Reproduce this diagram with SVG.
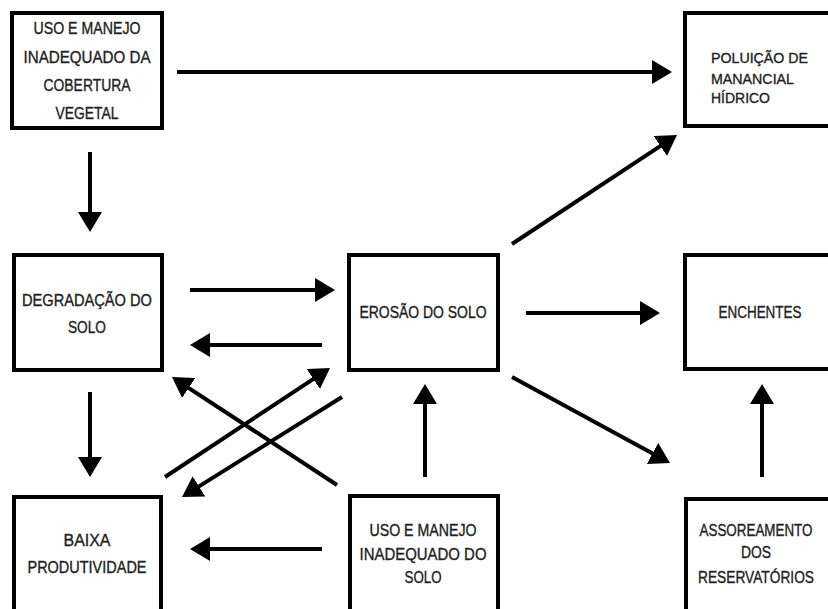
<svg xmlns="http://www.w3.org/2000/svg" width="828" height="609" viewBox="0 0 828 609">
<style>
.box{fill:#fff;stroke:#000;stroke-width:4}
.t{font-family:"Liberation Sans",Arial,sans-serif;font-size:16px;fill:#222;stroke:#222;stroke-width:0.35;text-anchor:middle}
.s{font-size:14px;text-anchor:start}
.c{fill:none;stroke:#000;stroke-width:4;marker-end:url(#ah)}
</style>
<defs>
<marker id="ah" markerUnits="userSpaceOnUse" markerWidth="22" markerHeight="24" refX="8" refY="12" orient="auto">
<path d="M0,0 L20,12 L0,24 z" fill="#000"/>
</marker>
</defs>
<rect width="828" height="609" fill="#fff"/>
<g id="connectors">
<path class="c" d="M177,72 H660"/>
<path class="c" d="M90,152 V220"/>
<path class="c" d="M190,290 H323"/>
<path class="c" d="M322,345 H202"/>
<path class="c" d="M512,244 L667,141.6"/>
<path class="c" d="M526,313 H648"/>
<path class="c" d="M512,377 L659.5,457.3"/>
<path class="c" d="M90,392 V465"/>
<path class="c" d="M165,477 L320,374.6"/>
<path class="c" d="M342,397 L192.2,490.6"/>
<path class="c" d="M337,485 L182,383.6"/>
<path class="c" d="M425,477 V396"/>
<path class="c" d="M322,549 H202"/>
<path class="c" d="M762,477 V396"/>
</g>
<g id="n1">
<rect class="box" x="12" y="13" width="150" height="115"/>
<text class="t" x="87" y="34" textLength="107" lengthAdjust="spacingAndGlyphs">USO E MANEJO</text>
<text class="t" x="87" y="63" textLength="127" lengthAdjust="spacingAndGlyphs">INADEQUADO DA</text>
<text class="t" x="87" y="91" textLength="87" lengthAdjust="spacingAndGlyphs">COBERTURA</text>
<text class="t" x="87" y="119" textLength="63" lengthAdjust="spacingAndGlyphs">VEGETAL</text>
</g>
<g id="n2">
<rect class="box" x="685" y="13" width="150" height="113"/>
<text class="t s" x="711" y="63" textLength="97" lengthAdjust="spacingAndGlyphs">POLUIÇÃO DE</text>
<text class="t s" x="711" y="84" textLength="83" lengthAdjust="spacingAndGlyphs">MANANCIAL</text>
<text class="t s" x="711" y="103" textLength="59" lengthAdjust="spacingAndGlyphs">HÍDRICO</text>
</g>
<g id="n3">
<rect class="box" x="14" y="255" width="148" height="115"/>
<text class="t" x="87" y="306" textLength="130" lengthAdjust="spacingAndGlyphs">DEGRADAÇÃO DO</text>
<text class="t" x="87" y="333" textLength="38" lengthAdjust="spacingAndGlyphs">SOLO</text>
</g>
<g id="n4">
<rect class="box" x="349" y="255" width="149" height="115"/>
<text class="t" x="423" y="318" textLength="127" lengthAdjust="spacingAndGlyphs">EROSÃO DO SOLO</text>
</g>
<g id="n5">
<rect class="box" x="685" y="255" width="150" height="114"/>
<text class="t" x="760" y="318" textLength="83" lengthAdjust="spacingAndGlyphs">ENCHENTES</text>
</g>
<g id="n6">
<rect class="box" x="14" y="497" width="147" height="130"/>
<text class="t" x="87" y="546" textLength="47" lengthAdjust="spacingAndGlyphs">BAIXA</text>
<text class="t" x="87" y="573" textLength="119" lengthAdjust="spacingAndGlyphs">PRODUTIVIDADE</text>
</g>
<g id="n7">
<rect class="box" x="350" y="496" width="148" height="130"/>
<text class="t" x="423" y="536" textLength="107" lengthAdjust="spacingAndGlyphs">USO E MANEJO</text>
<text class="t" x="423" y="560" textLength="127" lengthAdjust="spacingAndGlyphs">INADEQUADO DO</text>
<text class="t" x="423" y="583" textLength="37" lengthAdjust="spacingAndGlyphs">SOLO</text>
</g>
<g id="n8">
<rect class="box" x="686" y="499" width="150" height="130"/>
<text class="t" x="756" y="536" textLength="113" lengthAdjust="spacingAndGlyphs">ASSOREAMENTO</text>
<text class="t" x="756" y="558" textLength="30" lengthAdjust="spacingAndGlyphs">DOS</text>
<text class="t" x="756" y="583" textLength="116" lengthAdjust="spacingAndGlyphs">RESERVATÓRIOS</text>
</g>
</svg>
